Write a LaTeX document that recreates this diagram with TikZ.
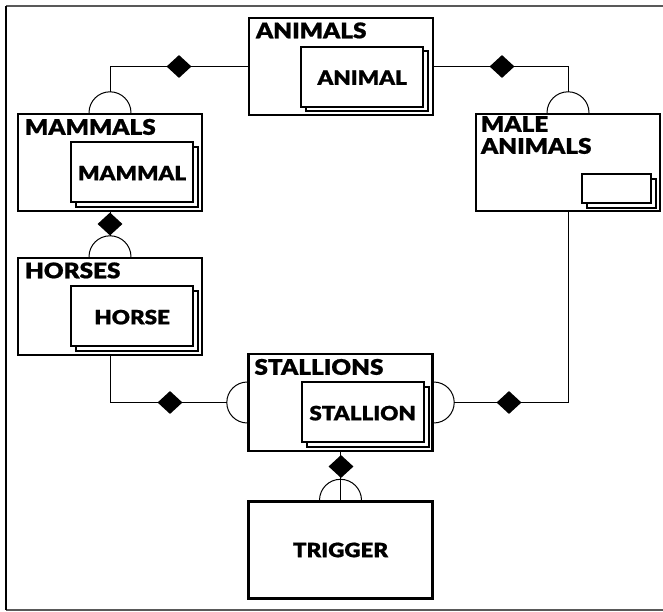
\documentclass[tikz,border=0pt]{standalone}
\usepackage{fontspec}
\setmainfont{Lato Black}[FakeStretch=1.13, FakeBold=0.8]
\usetikzlibrary{shapes.geometric,calc}

\tikzset{
  box/.style={draw, line width=2.4pt, fill=white, inner sep=0pt,
              minimum width=184pt, minimum height=97pt},
  card/.style={draw, line width=2.1pt, fill=white, inner sep=0pt,
               minimum width=122pt, minimum height=60pt, anchor=south east},
  smallcard/.style={card, minimum width=69pt, minimum height=29pt},
  conn/.style={line width=1pt},
  dia/.style={diamond, fill=black, draw=none, inner sep=0pt,
              minimum width=25pt, minimum height=23pt},
  lbl/.style={font=\fontsize{19.8}{22}\selectfont, inner sep=0pt},
  title/.style={font=\fontsize{21.5}{22}\selectfont, inner sep=0pt, anchor=base west},
  frameline/.style={line width=1.5pt},
}

% stacked card: back copy shifted down-right, front copy on top
\newcommand{\stackcard}[4]{% style, name, anchor point, text
  \node[#1] (#2back) at ($(#3)+(5pt,-4.5pt)$) {};
  \node[#1] (#2) at (#3) {};
  \node[lbl] at ([yshift=-1pt]#2.center) {#4};
}

\begin{document}
\begin{tikzpicture}[x=1pt,y=1pt]
\useasboundingbox (0,0) rectangle (663,611);

% outer frame
\draw[frameline, black!65] (663,605) -- (6,605);
\draw[frameline, black!65] (6,1) -- (663,1);
\draw[frameline] (6,605) -- (6,1);

% entity boxes
\node[box] (animals)   at (341,544.5) {};
\node[box] (mammals)   at (110,448.5) {};
\node[box] (horses)    at (110,304.5) {};
\node[box] (male)      at (568,448.5) {};
\node[box] (stallions) at (340.5,208.5) {};
\node[box] (trigger)   at (340.5,61) {};

% titles
\node[title] at ($(animals.north west)+(8,-21.5)$)   {ANIMALS};
\node[title] at ($(mammals.north west)+(8,-22)$)     {MAMMALS};
\node[title] at ($(horses.north west)+(8,-21.5)$)    {HORSES};
\node[title] at ($(stallions.north west)+(7,-22)$)   {STALLIONS};
\node[title] at ($(male.north west)+(6,-19)$)        {MALE};
\node[title] at ($(male.north west)+(6,-41)$)        {ANIMALS};
\node[lbl] at (trigger.center) {TRIGGER};

% inner stacked cards
\coordinate (ca) at ($(animals.south east)+(-10,8.5)$);
\coordinate (cm) at ($(mammals.south east)+(-9,9)$);
\coordinate (ch) at ($(horses.south east)+(-9,9)$);
\coordinate (cs) at ($(stallions.south east)+(-9,9)$);
\coordinate (cq) at ($(male.south east)+(-9,8)$);
\stackcard{card}{animalcard}{ca}{ANIMAL}
\stackcard{card}{mammalcard}{cm}{MAMMAL}
\stackcard{card}{horsecard}{ch}{HORSE}
\stackcard{card}{stallioncard}{cs}{STALLION}
\stackcard{smallcard}{malecard}{cq}{}

% half-circle ends on the boxes
\draw[conn] ([xshift=-21pt]mammals.north) arc[start angle=180, end angle=0, radius=21pt];
\draw[conn] ([xshift=-21pt]male.north)    arc[start angle=180, end angle=0, radius=21pt];
\draw[conn] ([xshift=-21pt]horses.north)  arc[start angle=180, end angle=0, radius=21pt];
\draw[conn] ([xshift=-21pt]trigger.north) arc[start angle=180, end angle=0, radius=21pt];
\draw[conn] ([yshift=20.5pt]stallions.west) arc[start angle=90, end angle=270, radius=20.5pt];
\draw[conn] ([yshift=-20.5pt]stallions.east) arc[start angle=-90, end angle=90, radius=20.5pt];

\coordinate (mamtop)   at ([yshift=21pt]mammals.north);
\coordinate (maletop)  at ([yshift=21pt]male.north);
\coordinate (horsetop) at ([yshift=21pt]horses.north);
\coordinate (stalleft) at ([xshift=-20.5pt]stallions.west);
\coordinate (stalright) at ([xshift=20.5pt]stallions.east);

% connectors
\draw[conn] (animals.west) -| (mamtop);
\draw[conn] (animals.east) -| (maletop);
\draw[conn] (mammals.south) -- (horsetop);
\draw[conn] (horses.south) |- (stalleft);
\draw[conn] (male.south) |- (stalright);
\draw[conn] (stallions.south) -- (trigger.north);

% diamonds
\node[dia] (d1) at (179,544.5) {};
\node[dia] (d2) at (502,544.5) {};
\node[dia] (d3) at (110,387) {};
\node[dia] (d4) at (170,208.5) {};
\node[dia] (d5) at (509,208.5) {};
\node[dia] (d6) at (341,144.5) {};
\end{tikzpicture}
\end{document}
